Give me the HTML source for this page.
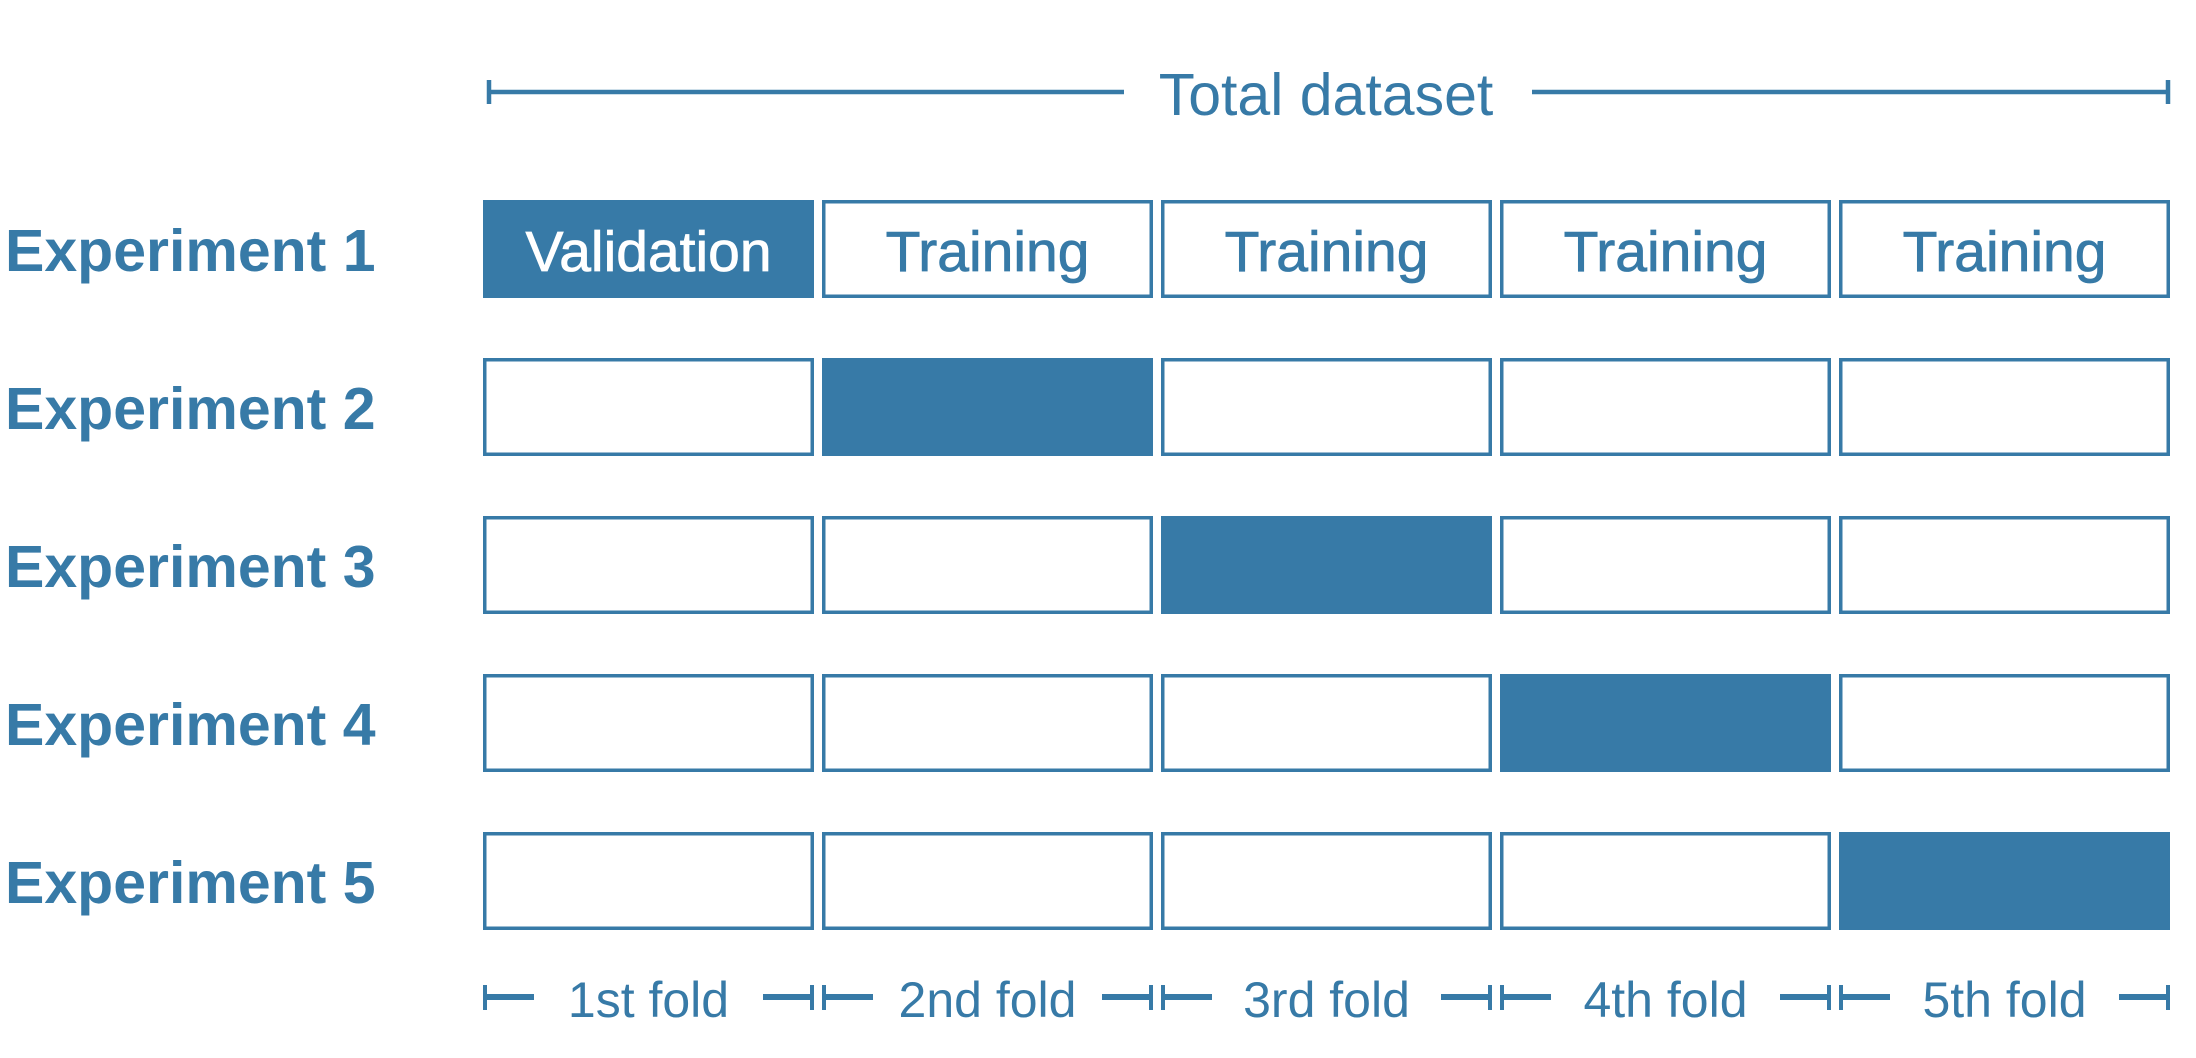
<!DOCTYPE html>
<html><head><meta charset="utf-8"><style>
html,body{margin:0;padding:0;background:#fff;}
svg{display:block;}
</style></head><body>
<svg width="2196" height="1058" viewBox="0 0 2196 1058" xmlns="http://www.w3.org/2000/svg" font-family="Liberation Sans, sans-serif">
<g stroke="#377aa7" stroke-width="4.5" fill="none">
<line x1="489" y1="92" x2="1124" y2="92"/>
<line x1="1532" y1="92" x2="2168" y2="92"/>
<line x1="489" y1="80" x2="489" y2="104"/>
<line x1="2168" y1="80" x2="2168" y2="104"/>
</g>
<text x="1326" y="115" font-size="59" fill="#377aa7" text-anchor="middle">Total dataset</text>
<g id="rows"></g>
<script>
var NS="http://www.w3.org/2000/svg";
var g=document.getElementById("rows");
function el(t,a,txt){var e=document.createElementNS(NS,t);for(var k in a)e.setAttribute(k,a[k]);if(txt)e.textContent=txt;g.appendChild(e);return e;}
var C="#377aa7";
for(var r=0;r<5;r++){
 var y=200+r*158;
 el("text",{x:5,y:y+71,"font-size":59,"font-weight":"bold",fill:C},"Experiment "+(r+1));
 for(var c=0;c<5;c++){
  var x=483+c*339;
  if(c==r){el("rect",{x:x,y:y,width:331,height:98,fill:C});}
  else{el("rect",{x:x+1.75,y:y+1.75,width:327.5,height:94.5,fill:"#fff",stroke:C,"stroke-width":3.5});}
  if(r==0){el("text",{x:x+165.5,y:y+71,"font-size":57,fill:c==0?"#fff":C,"text-anchor":"middle",stroke:c==0?"#fff":C,"stroke-width":0.8},c==0?"Validation":"Training");}
 }
}
var names=["1st fold","2nd fold","3rd fold","4th fold","5th fold"];
for(var c=0;c<5;c++){
 var x=483+c*339;
 el("line",{x1:x+2,y1:985,x2:x+2,y2:1010,stroke:C,"stroke-width":4});
 el("line",{x1:x+2,y1:997,x2:x+51,y2:997,stroke:C,"stroke-width":6});
 el("line",{x1:x+329,y1:985,x2:x+329,y2:1010,stroke:C,"stroke-width":4});
 el("line",{x1:x+280,y1:997,x2:x+329,y2:997,stroke:C,"stroke-width":6});
 el("text",{x:x+165.5,y:1017,"font-size":50,fill:C,"text-anchor":"middle"},names[c]);
}
</script>
</svg>
</body></html>
